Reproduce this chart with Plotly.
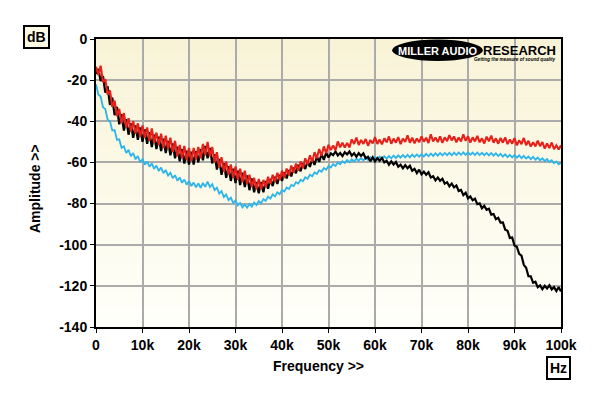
import plotly.graph_objects as go

# ---------------- data ----------------
freq_khz = [i * 0.5 for i in range(201)]

red_db = [
    -13.5, -17.5, -13, -21, -19.5, -27, -25, -33, -30, -37.5,
    -34, -41, -36, -43, -38.5, -45, -40, -46, -41, -47.5,
    -42, -48, -43, -49.5, -43.5, -50.5, -45.5, -51.5, -46, -53,
    -47, -53.5, -48, -55, -49.5, -57, -51.5, -58, -52, -59,
    -53, -59.5, -53, -58.5, -52.5, -58, -51, -56.5, -50, -57,
    -52.5, -60, -55, -62.5, -57.5, -64.5, -59.5, -66, -61, -67.5,
    -62, -68.5, -63, -69.5, -64, -70.5, -66, -72, -67.5, -73,
    -68, -73, -68.5, -72, -67, -70.5, -66, -69.5, -65, -68.5,
    -64, -67.5, -63, -66.3, -61.5, -65, -60.5, -64, -59.5, -62.8,
    -58, -61, -56.5, -59.8, -55, -58, -53.5, -56.8, -52.2, -55.5,
    -51.4, -54.0, -51.7, -54.1, -49.8, -52.7, -50.4, -52.8, -50.5, -52.7,
    -48.8, -51.0, -47.9, -51.5, -49.1, -51.0, -48.6, -51.9, -49.1, -50.8,
    -47.7, -51.0, -48.9, -51.2, -48.3, -50.2, -47.4, -50.9, -48.4, -50.4,
    -47.7, -51.1, -48.4, -50.0, -46.8, -50.4, -48.0, -50.7, -48.4, -50.2,
    -47.4, -49.9, -48.0, -50.6, -46.3, -49.8, -47.9, -50.1, -47.3, -50.5,
    -47.8, -49.7, -46.7, -49.3, -47.4, -50.2, -47.9, -49.8, -46.4, -49.5,
    -47.3, -50.4, -47.8, -49.8, -47.1, -50.2, -48.3, -50.8, -47.5, -49.7,
    -47.0, -50.4, -48.3, -50.9, -48.1, -50.4, -47.8, -51.1, -48.9, -50.9,
    -48.2, -51.7, -49.2, -51.1, -48.1, -51.6, -49.5, -52.3, -50.2, -52.2,
    -49.4, -52.1, -50.1, -53.3, -50.8, -53.0, -50.3, -53.6, -51.7, -53.7,
    -51.7,
]

black_db = [
    -17, -14.5, -20.5, -18, -26, -23, -32, -28.5, -37, -33,
    -41.5, -36.5, -44.5, -39, -46.5, -41, -48, -42, -49, -43,
    -50, -44, -51, -45.3, -52.5, -46.5, -53.5, -47.5, -54.5, -48.5,
    -55.5, -49.5, -56.5, -50.8, -58, -52.3, -59.5, -53.5, -60.5, -54.3,
    -61, -54.8, -61, -54.5, -60, -53.5, -59, -52, -58, -53,
    -60.5, -56, -63.5, -58.3, -66, -60.3, -67.5, -61.8, -69, -63,
    -70, -64, -71, -65, -72, -66.3, -73.5, -67.8, -74.5, -69.5,
    -75, -69.5, -74.5, -69, -72.8, -68, -71.5, -67, -70.5, -66,
    -69, -64.8, -67.8, -63.7, -66.8, -62.5, -65.3, -61.2, -64.3, -60.3,
    -63.2, -59.3, -62.2, -58.4, -61.2, -57.2, -59.7, -56, -58.8, -55.3,
    -57.6, -55.6, -56.5, -54.7, -56.6, -55.4, -56.9, -55.0, -56.1, -54.7,
    -56.7, -55.5, -57.2, -55.5, -56.8, -55.6, -58.0, -57.3, -59.4, -57.5,
    -59.5, -57.9, -59.2, -57.8, -60.0, -59.2, -61.1, -59.5, -61.0, -59.8,
    -62.1, -61.1, -62.9, -61.3, -62.8, -61.6, -64.0, -63.1, -65.2, -63.5,
    -65.8, -64.5, -66.0, -64.8, -67.3, -66.7, -68.7, -67.3, -68.9, -67.9,
    -70.3, -69.6, -71.6, -70.3, -72.1, -71.2, -73.9, -73.4, -75.9, -74.7,
    -77.5, -76.5, -78.4, -77.6, -80.3, -79.9, -82.3, -81.1, -83.0, -82.5,
    -85.4, -85.1, -87.6, -86.9, -89.3, -89.2, -92.7, -93.2, -96.7, -96.5,
    -100.4, -101.0, -104.4, -105.3, -109.8, -111.2, -115.3, -115.4, -118.5, -118.0,
    -120.7, -119.8, -121.6, -120.0, -121.3, -119.7, -121.7, -120.6, -122.5, -120.6,
    -122.8,
]

cyan_db = [
    -22, -27, -28, -33.2, -34, -39.2, -40, -44.5, -44.3, -49,
    -48.8, -52.9, -52.2, -55.4, -53.9, -57, -55.4, -58.5, -56.9, -59.9,
    -58.5, -61.1, -59.5, -62.1, -60.5, -63.1, -61.5, -64.1, -62.5, -65.2,
    -63.7, -66.4, -65, -67.7, -66.2, -68.9, -67.3, -69.9, -68.3, -70.8,
    -69, -71.5, -69.8, -72.1, -70.2, -72.3, -70, -71.9, -69.3, -72,
    -70.6, -73.5, -72.3, -75.2, -74, -76.8, -75.6, -78.3, -77.1, -79.7,
    -78.5, -80.9, -79.7, -81.8, -80.4, -82, -80.2, -81.5, -79.5, -80.7,
    -78.8, -79.8, -77.8, -78.7, -76.6, -77.6, -75.5, -76.5, -74.5, -75.4,
    -73.4, -74.1, -72.2, -72.9, -70.9, -71.5, -69.6, -70.3, -68.4, -69.1,
    -67.2, -67.9, -66, -66.7, -64.9, -65.6, -63.8, -64.5, -62.7, -63.5,
    -61.7, -62.5, -60.8, -61.7, -60, -60.9, -59.4, -60.3, -58.9, -59.9,
    -58.5, -59.5, -58.2, -59.2, -57.9, -59, -57.7, -58.8, -57.5, -58.6,
    -57.4, -58.5, -57.2, -58.3, -57, -58.1, -56.9, -58, -56.7, -57.9,
    -56.6, -57.7, -56.4, -57.6, -56.3, -57.5, -56.2, -57.3, -56.1, -57.2,
    -56, -57.1, -55.8, -57, -55.7, -56.8, -55.6, -56.7, -55.4, -56.6,
    -55.4, -56.5, -55.3, -56.5, -55.2, -56.4, -55.2, -56.3, -55.1, -56.3,
    -55.1, -56.3, -55.2, -56.4, -55.2, -56.4, -55.3, -56.5, -55.4, -56.6,
    -55.4, -56.7, -55.6, -56.9, -55.8, -57.2, -56.1, -57.4, -56.3, -57.6,
    -56.4, -57.7, -56.6, -57.9, -56.8, -58.1, -57.1, -58.4, -57.3, -58.7,
    -57.6, -59, -58, -59.4, -58.4, -59.8, -58.9, -60.4, -59.5, -60.9,
    -60.2,
]

x_tick_vals = [0, 10, 20, 30, 40, 50, 60, 70, 80, 90, 100]
x_tick_text = ["0", "10k", "20k", "30k", "40k", "50k", "60k", "70k", "80k", "90k", "100k"]
y_tick_vals = [0, -20, -40, -60, -80, -100, -120, -140]
y_tick_text = ["0", "-20", "-40", "-60", "-80", "-100", "-120", "-140"]

# ---------------- layout geometry ----------------
# the page body adds an 8px offset; margins compensate so the plot lands at
# page pixels x 96..561, y 39..327
OFF = 8
W, H = 600, 396
L, R, T, B = 88, 47, 31, 77
PW, PH = W - L - R, H - T - B


def px(xp):
    return (xp - OFF - L) / PW


def py(yp):
    return (H - B - (yp - OFF)) / PH


FONT = "Liberation Sans, Arial, sans-serif"

fig = go.Figure()
fig.add_trace(go.Scatter(x=freq_khz, y=cyan_db, mode="lines",
                         line=dict(color="#2bb5ea", width=1.8), hoverinfo="skip"))
fig.add_trace(go.Scatter(x=freq_khz, y=black_db, mode="lines",
                         line=dict(color="#000000", width=2.2), hoverinfo="skip"))
fig.add_trace(go.Scatter(x=freq_khz, y=red_db, mode="lines",
                         line=dict(color="#e8201a", width=2.1), hoverinfo="skip"))

# cream gradient background of the plot area
shapes = []
n = 40
top = (248, 243, 214)
bot = (255, 255, 250)
for i in range(n):
    t = i / (n - 1)
    c = tuple(round(top[k] + (bot[k] - top[k]) * t) for k in range(3))
    shapes.append(dict(type="rect", xref="paper", yref="paper",
                       x0=0, x1=1, y0=1 - (i + 1) / n, y1=1 - i / n,
                       fillcolor="rgb(%d,%d,%d)" % c, line=dict(width=0),
                       layer="below"))
# logo ellipse
shapes.append(dict(type="circle", xref="paper", yref="paper",
                   x0=px(392), x1=px(483), y0=py(61), y1=py(39.5),
                   fillcolor="#000000", line=dict(width=0), layer="above"))

annotations = [
    dict(text="<b>MILLER AUDIO</b>", x=px(437.5), y=py(50.5), xref="paper", yref="paper",
         showarrow=False, font=dict(family=FONT, size=11, color="white"),
         xanchor="center", yanchor="middle"),
    dict(text="<b>RESEARCH</b>", x=px(481), y=py(50.5), xref="paper", yref="paper",
         showarrow=False, font=dict(family=FONT, size=13, color="black"),
         xanchor="left", yanchor="middle"),
    dict(text="<b><i>Getting the measure of sound quality</i></b>", x=px(558), y=py(59.5),
         xref="paper", yref="paper", showarrow=False,
         font=dict(family=FONT, size=4.6, color="black"),
         xanchor="right", yanchor="middle"),
    dict(text="<b>dB</b>", x=px(36.5), y=py(37), xref="paper", yref="paper",
         showarrow=False, font=dict(family=FONT, size=14, color="black"),
         bgcolor="#fbf8e4", bordercolor="black", borderwidth=2, borderpad=2,
         xanchor="center", yanchor="middle"),
    dict(text="<b>Hz</b>", x=px(558), y=py(368), xref="paper", yref="paper",
         showarrow=False, font=dict(family=FONT, size=14, color="black"),
         bgcolor="#ffffff", bordercolor="black", borderwidth=2, borderpad=2,
         xanchor="center", yanchor="middle"),
    dict(text="<b>Frequency &gt;&gt;</b>", x=px(318), y=py(366), xref="paper", yref="paper",
         showarrow=False, font=dict(family=FONT, size=14, color="black"),
         xanchor="center", yanchor="middle"),
    dict(text="<b>Amplitude &gt;&gt;</b>", x=px(35), y=py(188), xref="paper", yref="paper",
         showarrow=False, textangle=-90, font=dict(family=FONT, size=14, color="black"),
         xanchor="center", yanchor="middle"),
]

axis_common = dict(showgrid=True, gridcolor="#ababab", gridwidth=1.5, zeroline=False,
                   showline=True, linecolor="black", linewidth=2, mirror=True,
                   ticks="outside", ticklen=4, tickcolor="black", tickwidth=1,
                   tickfont=dict(family=FONT, size=14, color="black", weight="bold"),
                   fixedrange=True)

fig.update_layout(
    width=W, height=H,
    margin=dict(l=L, r=R, t=T, b=B, autoexpand=False),
    paper_bgcolor="white", plot_bgcolor="#fdfbee",
    showlegend=False,
    xaxis=dict(range=[0, 100], tickvals=x_tick_vals, ticktext=x_tick_text, **axis_common),
    yaxis=dict(range=[-140, 0], tickvals=y_tick_vals, ticktext=y_tick_text, **axis_common),
    shapes=shapes, annotations=annotations,
)

fig.write_html("out.html")
